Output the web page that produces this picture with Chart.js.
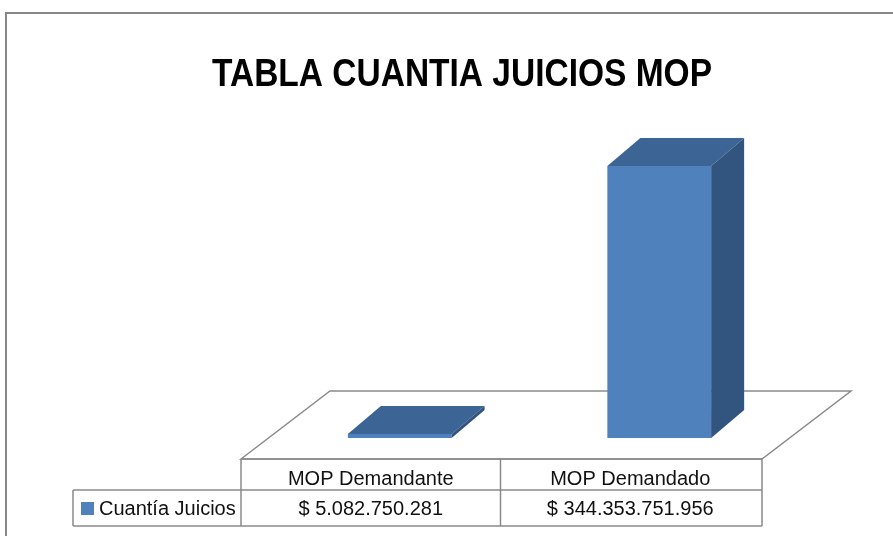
<!DOCTYPE html>
<html>
<head>
<meta charset="utf-8">
<script src="https://cdn.jsdelivr.net/npm/chart.js@4.4.1/dist/chart.umd.min.js"></script>
<style>
  html, body { margin: 0; padding: 0; background: #fff; }
  #chart { display: block; }
</style>
</head>
<body>
<canvas id="chart" width="893" height="536"></canvas>
<script>
let chartTitle = "TABLA CUANTIA JUICIOS MOP"
let categories = ["MOP Demandante", "MOP Demandado"]
let seriesName = "Cuantía Juicios"
let values = [5082750281, 344353751956]

let front = "#4f81bd"
let topFace = "#3c6595"
let sideFace = "#325580"
let lineGray = "#8a8a8a"

// depth offsets of the fake 3d box (px)
let barDepth = { dx: 33, dy: -28 }
let frontShift = { dx: -29, dy: 21 }
let floorDepth = { dx: 89, dy: -68 }

function money(v) {
    let s = String(Math.round(v))
    return "$ " + s.replace(/\B(?=(\d{3})+(?!\d))/g, ".")
}

let fontStack = '"Liberation Sans Narrow", "Liberation Sans", Arial, sans-serif'

let box3d = {
    id: "box3d",
    beforeDraw(chart) {
        let ctx = chart.ctx
        let a = chart.chartArea
        ctx.save()
        // outer border
        ctx.strokeStyle = "#868686"
        ctx.lineWidth = 2
        ctx.strokeRect(6, 13, 1000, 1000)

        // floor
        let fl = a.left + frontShift.dx, fr = a.right + frontShift.dx + 2
        let fy = a.bottom + frontShift.dy
        ctx.beginPath()
        ctx.moveTo(fl, fy)
        ctx.lineTo(fl + floorDepth.dx, fy + floorDepth.dy)
        ctx.lineTo(fr + floorDepth.dx, fy + floorDepth.dy)
        ctx.lineTo(fr, fy)
        ctx.closePath()
        ctx.fillStyle = "#fff"
        ctx.fill()
        ctx.strokeStyle = lineGray
        ctx.lineWidth = 1.5
        ctx.stroke()
        ctx.restore()
    },
    afterDatasetsDraw(chart) {
        let ctx = chart.ctx
        let meta = chart.getDatasetMeta(0)
        ctx.save()
        for (let bar of meta.data) {
            let l = bar.x - bar.width / 2
            let r = bar.x + bar.width / 2
            let t = bar.y
            let b = bar.base
            // top
            ctx.beginPath()
            ctx.moveTo(l, t)
            ctx.lineTo(l + barDepth.dx, t + barDepth.dy)
            ctx.lineTo(r + barDepth.dx, t + barDepth.dy)
            ctx.lineTo(r, t)
            ctx.closePath()
            ctx.fillStyle = topFace
            ctx.fill()
            // side
            ctx.beginPath()
            ctx.moveTo(r, t)
            ctx.lineTo(r + barDepth.dx, t + barDepth.dy)
            ctx.lineTo(r + barDepth.dx, b + barDepth.dy)
            ctx.lineTo(r, b)
            ctx.closePath()
            ctx.fillStyle = sideFace
            ctx.fill()
        }
        ctx.restore()
    },
    afterDraw(chart) {
        let ctx = chart.ctx
        let a = chart.chartArea
        let xs = chart.scales.x
        ctx.save()

        // title
        ctx.fillStyle = "#000"
        ctx.font = "bold 38px " + fontStack
        ctx.textAlign = "center"
        ctx.textBaseline = "middle"
        ctx.fillText(chartTitle, 462, 76, 500)

        // data table
        let x0 = a.left + frontShift.dx
        let x2 = a.right + frontShift.dx + 2
        let y0 = a.bottom + frontShift.dy
        let y1 = y0 + 31
        let y2 = y1 + 36
        let legendLeft = 73
        let bands = categories.map((c, i) => {
            let w = xs.getPixelForValue(1) - xs.getPixelForValue(0)
            let cx = xs.getPixelForValue(i) + frontShift.dx
            return { l: cx - w / 2, r: cx + w / 2, cx }
        })

        ctx.strokeStyle = lineGray
        ctx.lineWidth = 1.5
        ctx.beginPath()
        ctx.moveTo(x0, y0); ctx.lineTo(x2, y0)
        ctx.moveTo(legendLeft, y1); ctx.lineTo(x2, y1)
        ctx.moveTo(legendLeft, y2); ctx.lineTo(x2, y2)
        ctx.moveTo(legendLeft, y1); ctx.lineTo(legendLeft, y2)
        ctx.moveTo(x0, y0); ctx.lineTo(x0, y2)
        ctx.moveTo(x2, y0); ctx.lineTo(x2, y2)
        for (let i = 1; i < bands.length; i++) {
            ctx.moveTo(bands[i].l, y0); ctx.lineTo(bands[i].l, y2)
        }
        ctx.stroke()

        ctx.font = "20px " + fontStack
        ctx.fillStyle = "#111"
        ctx.textBaseline = "middle"
        ctx.textAlign = "center"
        categories.forEach((c, i) => {
            ctx.fillText(c, bands[i].cx, (y0 + y1) / 2 + 5)
            ctx.fillText(money(values[i]), bands[i].cx, (y1 + y2) / 2 + 1)
        })

        // legend key
        ctx.fillStyle = front
        ctx.fillRect(81, y1 + 12, 13, 13)
        ctx.fillStyle = "#111"
        ctx.textAlign = "left"
        ctx.fillText(seriesName, 99, (y1 + y2) / 2 + 1)
        ctx.restore()
    }
}

window.onload = () => {
    let ctx = document.querySelector("#chart").getContext("2d")
    new Chart(ctx, {
        type: "bar",
        data: {
            labels: categories,
            datasets: [{
                label: seriesName,
                data: values,
                backgroundColor: front,
                borderWidth: 0,
                barPercentage: 0.4,
                categoryPercentage: 1
            }]
        },
        options: {
            responsive: false,
            animation: false,
            layout: { padding: { left: 270, right: 104, top: 122, bottom: 98 } },
            plugins: {
                legend: { display: false },
                tooltip: { enabled: false }
            },
            scales: {
                x: { display: false },
                y: { display: false, min: 0, max: 400000000000 }
            }
        },
        plugins: [box3d]
    })
}
</script>
</body>
</html>
